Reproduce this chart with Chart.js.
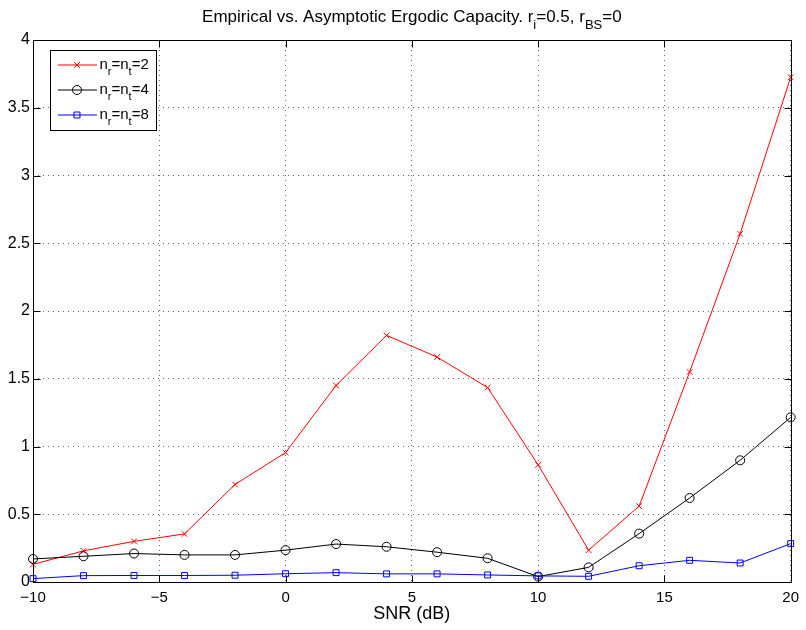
<!DOCTYPE html>
<html>
<head>
<meta charset="utf-8">
<script src="https://cdn.jsdelivr.net/npm/chart.js"></script>
<style>
html, body { margin: 0; padding: 0; background: #fff; }
#wrap { width: 806px; height: 630px; overflow: hidden; position: relative; }
#chart { position: absolute; left: -6px; top: 0; }
</style>
</head>
<body>
<div id="wrap"><canvas id="chart" width="812" height="630"></canvas></div>
<script>
// values
var snrDb = [-10, -8, -6, -4, -2, 0, 2, 4, 6, 8, 10, 12, 14, 16, 18, 20];
var cap2 = [0.13, 0.23, 0.30, 0.355, 0.72, 0.955, 1.45, 1.82, 1.66, 1.435, 0.865, 0.235, 0.56, 1.55, 2.57, 3.725];
var cap4 = [0.17, 0.19, 0.21, 0.20, 0.20, 0.235, 0.28, 0.26, 0.22, 0.175, 0.04, 0.108, 0.357, 0.62, 0.898, 1.215];
var cap8 = [0.025, 0.047, 0.048, 0.048, 0.05, 0.061, 0.069, 0.06, 0.06, 0.052, 0.045, 0.042, 0.12, 0.16, 0.14, 0.283];
var xTicks = [-10, -5, 0, 5, 10, 15, 20];
var yTicks = [0, 0.5, 1, 1.5, 2, 2.5, 3, 3.5, 4];

var FONT = "'Liberation Sans', Arial, Helvetica, sans-serif";
var titleParts = [{t: 'Empirical vs. Asymptotic Ergodic Capacity. r'}, {t: 'i', sub: true}, {t: '=0.5, r'}, {t: 'BS', sub: true}, {t: '=0'}];
var legendParts = [
    [{t: 'n'}, {t: 'r', sub: true}, {t: '=n'}, {t: 't', sub: true}, {t: '=2'}],
    [{t: 'n'}, {t: 'r', sub: true}, {t: '=n'}, {t: 't', sub: true}, {t: '=4'}],
    [{t: 'n'}, {t: 'r', sub: true}, {t: '=n'}, {t: 't', sub: true}, {t: '=8'}]
];

function toPoints(ys) {
    return snrDb.map(function (x, i) { return {x: x, y: ys[i]}; });
}

function fmt(v) {
    var s = String(v);
    return s.charAt(0) === '-' ? '\u2212' + s.slice(1) : s;
}

// text with subscripts, x = left, y = baseline
function richWidth(ctx, parts, size, subSize) {
    var w = 0;
    parts.forEach(function (p) {
        ctx.font = (p.sub ? subSize : size) + 'px ' + FONT;
        w += ctx.measureText(p.t).width;
    });
    return w;
}
function drawRich(ctx, parts, x, y, size, subSize, drop) {
    parts.forEach(function (p) {
        ctx.font = (p.sub ? subSize : size) + 'px ' + FONT;
        ctx.fillText(p.t, x, y + (p.sub ? drop : 0));
        x += ctx.measureText(p.t).width;
    });
}

var OFF = 6; // canvas is shifted left by this much (cropped figure)

var matlabDecor = {
    id: 'matlabDecor',
    afterDraw: function (chart) {
        var ctx = chart.ctx, a = chart.chartArea;
        var xs = chart.scales.x, ys = chart.scales.y;
        var L = Math.round(a.left) + 0.5, R = Math.round(a.right) + 0.5;
        var T = Math.round(a.top) + 0.5, B = Math.round(a.bottom) + 0.5;
        ctx.save();
        ctx.strokeStyle = '#000';
        ctx.lineWidth = 1;
        ctx.setLineDash([]);
        ctx.beginPath();
        ctx.rect(L, T, R - L, B - T);
        // inward ticks
        xTicks.forEach(function (v) {
            var px = Math.round(xs.getPixelForValue(v)) + 0.5;
            ctx.moveTo(px, B); ctx.lineTo(px, B - 7);
            ctx.moveTo(px, T); ctx.lineTo(px, T + 7);
        });
        yTicks.forEach(function (v) {
            var py = Math.round(ys.getPixelForValue(v)) + 0.5;
            ctx.moveTo(L, py); ctx.lineTo(L + 7, py);
            ctx.moveTo(R, py); ctx.lineTo(R - 7, py);
        });
        ctx.stroke();

        // title
        ctx.fillStyle = '#000';
        ctx.textBaseline = 'alphabetic';
        ctx.textAlign = 'left';
        var tw = richWidth(ctx, titleParts, 17, 13);
        drawRich(ctx, titleParts, (a.left + a.right) / 2 - tw / 2, 22, 17, 13, 7);

        // legend box
        var bx = 50.5 + OFF, by = 50.5, bw = 106, bh = 80;
        ctx.fillStyle = '#fff';
        ctx.fillRect(bx, by, bw, bh);
        ctx.strokeStyle = '#000';
        ctx.strokeRect(bx, by, bw, bh);
        var rows = [65, 90, 115];
        chart.data.datasets.forEach(function (ds, i) {
            var ry = rows[i];
            ctx.strokeStyle = ds.borderColor;
            ctx.lineWidth = 1;
            ctx.beginPath();
            ctx.moveTo(58 + OFF, ry);
            ctx.lineTo(97 + OFF, ry);
            ctx.stroke();
            ctx.fillStyle = 'rgba(0,0,0,0)';
            Chart.helpers.drawPoint(ctx, {
                pointStyle: ds.pointStyle,
                radius: ds.pointRadius,
                borderWidth: 1,
                rotation: 0
            }, 77 + OFF, ry);
            ctx.fillStyle = '#000';
            drawRich(ctx, legendParts[i], 99.5 + OFF, ry + 3.5, 15, 11, 6.5);
        });
        ctx.restore();
    }
};

var ctx = document.getElementById('chart').getContext('2d');
new Chart(ctx, {
    type: 'line',
    data: {
        datasets: [{
            label: 'nr=nt=2',
            data: toPoints(cap2),
            borderColor: '#ff0000',
            backgroundColor: 'rgba(0,0,0,0)',
            borderWidth: 1,
            pointStyle: 'crossRot',
            pointRadius: 4,
            pointBorderWidth: 1,
            tension: 0,
            clip: false,
            order: 3
        }, {
            label: 'nr=nt=4',
            data: toPoints(cap4),
            borderColor: '#000000',
            backgroundColor: 'rgba(0,0,0,0)',
            borderWidth: 1,
            pointStyle: 'circle',
            pointRadius: 4.5,
            pointBorderWidth: 1,
            tension: 0,
            clip: false,
            order: 2
        }, {
            label: 'nr=nt=8',
            data: toPoints(cap8),
            borderColor: '#0000ff',
            backgroundColor: 'rgba(0,0,0,0)',
            borderWidth: 1,
            pointStyle: 'rect',
            pointRadius: 4.2,
            pointBorderWidth: 1,
            tension: 0,
            clip: false,
            order: 1
        }]
    },
    options: {
        responsive: false,
        animation: false,
        events: [],
        layout: { padding: { top: 40, right: 10, left: 0, bottom: 0 } },
        plugins: {
            legend: { display: false },
            title: { display: false },
            tooltip: { enabled: false }
        },
        scales: {
            x: {
                type: 'linear',
                min: -10,
                max: 20,
                afterBuildTicks: function (s) { s.ticks = xTicks.map(function (v) { return {value: v}; }); },
                afterFit: function (s) { s.height = 48; },
                grid: { color: 'rgba(0,0,0,0.6)', lineWidth: 1, drawTicks: false },
                border: { display: false, dash: [1, 4] },
                ticks: {
                    color: '#000',
                    padding: 7,
                    maxRotation: 0,
                    autoSkip: false,
                    font: { family: FONT, size: 15 },
                    callback: function (v) { return fmt(v); }
                },
                title: {
                    display: true,
                    text: 'SNR (dB)',
                    color: '#000',
                    font: { family: FONT, size: 18 },
                    padding: { top: 0, bottom: 5 }
                }
            },
            y: {
                type: 'linear',
                min: 0,
                max: 4,
                afterBuildTicks: function (s) { s.ticks = yTicks.map(function (v) { return {value: v}; }); },
                afterFit: function (s) { s.width = 39; },
                grid: { color: 'rgba(0,0,0,0.6)', lineWidth: 1, drawTicks: false },
                border: { display: false, dash: [1, 4] },
                ticks: {
                    color: '#000',
                    padding: 3,
                    autoSkip: false,
                    font: { family: FONT, size: 16 },
                    callback: function (v) { return fmt(v); }
                }
            }
        }
    },
    plugins: [matlabDecor]
});
</script>
</body>
</html>
